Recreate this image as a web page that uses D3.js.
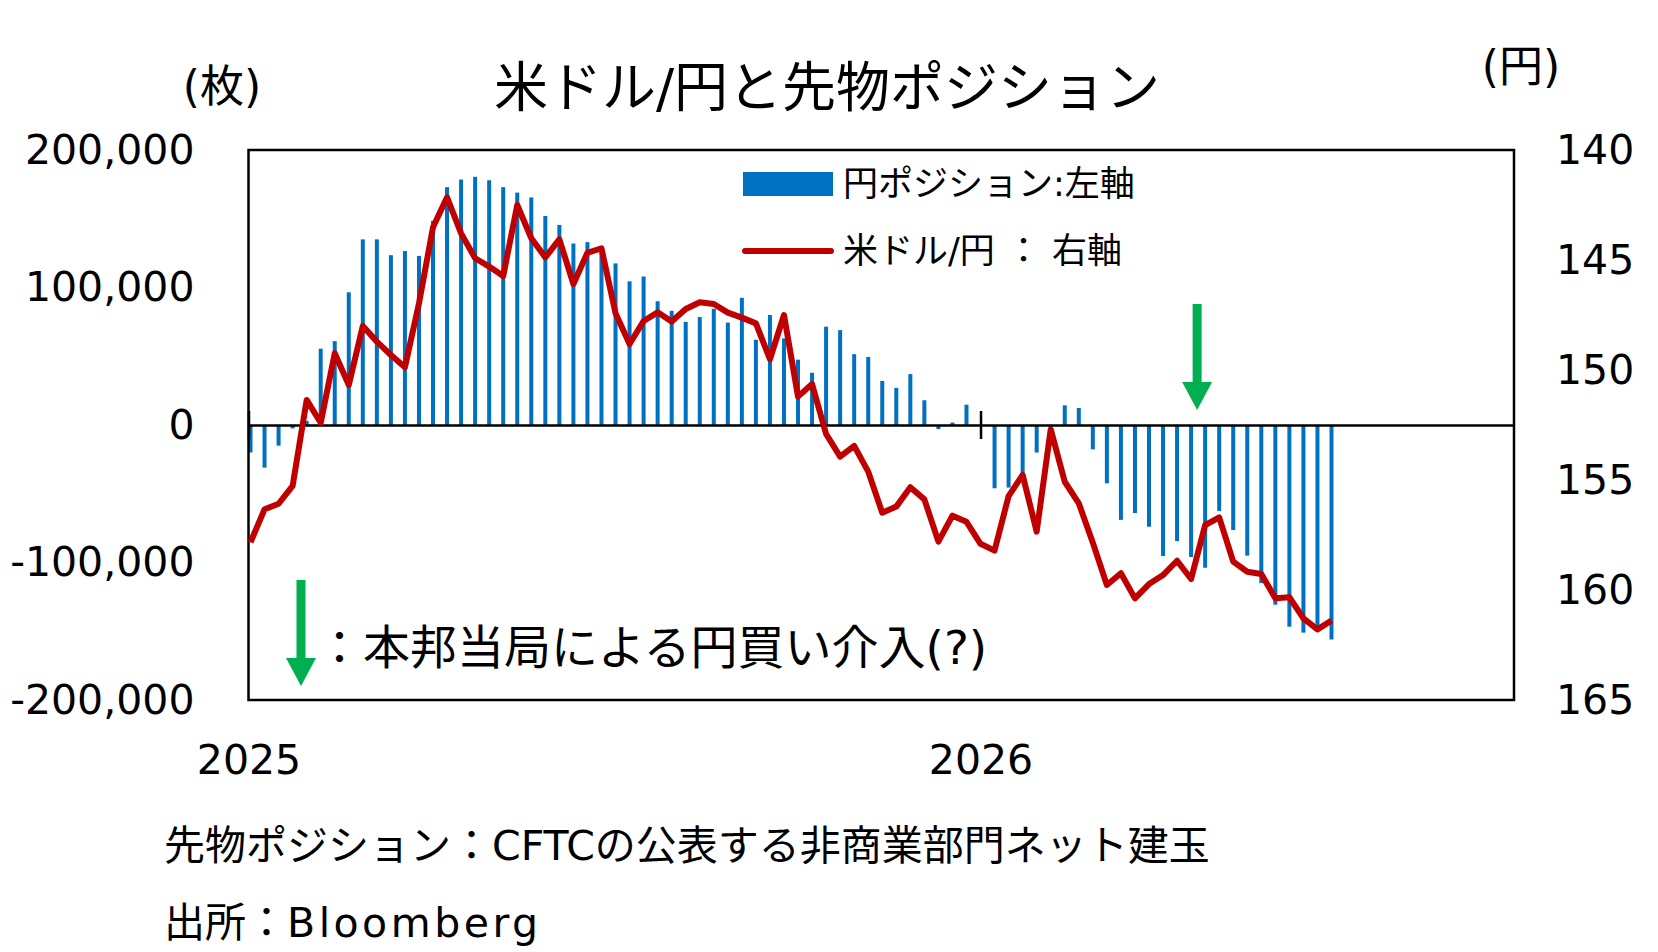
<!DOCTYPE html>
<html>
<head>
<meta charset="utf-8">
<script src="https://cdn.jsdelivr.net/npm/d3@7"></script>
<style>
  body { margin: 0; background: #fff; }
  svg { display: block; font-family: "DejaVu Sans", "Noto Sans CJK JP", sans-serif; }
</style>
</head>
<body>
<svg id="chart" width="1658" height="952"></svg>
<script>
// weekly CFTC dates start here, one bar per week
const firstWeek = "2025-01-02";

// non-commercial net yen futures position (contracts), left axis
const yenPosition = [
  -20000, -31000, -15000, -2500, 3000, 55500, 61000, 96500, 135000, 135000,
  123500, 126500, 123000, 148500, 173000, 178500, 180500, 178000, 173000, 169000,
  165500, 152000, 145500, 132000, 133000, 129000, 117500, 104500, 108000, 90000,
  83000, 75000, 78500, 84500, 74500, 92500, 62000, 80000, 63000, 47500,
  38000, 71500, 69000, 51500, 49500, 32000, 27000, 37000, 18000, -3000,
  1800, 14800, 0, -46000, -45500, -38000, -20000, -15000, 14300, 12400,
  -17700, -42400, -69000, -64000, -74000, -95300, -84400, -96000, -103800, -62500,
  -76400, -95000, -115000, -130700, -146700, -151000, -150000, -156000
];

// USD/JPY, right axis (inverted)
const usdJpy = [
  157.83, 156.33, 156.08, 155.27, 151.36, 152.4, 149.24, 150.68, 148.0, 148.71,
  149.32, 149.88, 146.97, 143.51, 142.15, 143.79, 144.92, 145.3, 145.73, 142.5,
  144.01, 144.88, 144.06, 146.09, 144.67, 144.47, 147.42, 148.82, 147.77, 147.38,
  147.8, 147.23, 146.92, 147.0, 147.39, 147.62, 147.88, 149.51, 147.5, 151.21,
  150.64, 152.91, 153.94, 153.45, 154.62, 156.49, 156.21, 155.33, 155.88, 157.8,
  156.62, 156.9, 157.9, 158.21, 155.73, 154.77, 157.35, 152.7, 155.08, 156.06,
  157.85, 159.77, 159.24, 160.38, 159.73, 159.32, 158.67, 159.5, 157.05, 156.7,
  158.71, 159.17, 159.27, 160.38, 160.33, 161.29, 161.79, 161.39
];

const yearTicks = ["2025-01-01", "2026-01-01"];
const leftTicks = [200000, 100000, 0, -100000, -200000];
const rightTicks = [140, 145, 150, 155, 160, 165];
const interventionDates = ["2026-04-19"];
const xDomain = ["2025-01-01", "2026-09-24"];

const parse = d3.utcParse("%Y-%m-%d");
const fmt = d3.formatLocale({decimal: ".", thousands: ",", grouping: [3], currency: ["", ""], minus: "-"}).format(",");

const svg = d3.select("#chart");
const plot = {left: 248.5, right: 1514, top: 150, bottom: 700};

const start = parse(firstWeek);
const weeks = yenPosition.map((_, i) => d3.utcDay.offset(start, i * 7));

const x = d3.scaleUtc()
  .domain(xDomain.map(parse))
  .range([plot.left, plot.right]);

const yL = d3.scaleLinear().domain([-200000, 200000]).range([plot.bottom, plot.top]);
const yR = d3.scaleLinear().domain([165, 140]).range([plot.bottom, plot.top]);

// bars
svg.append("g")
  .selectAll("rect")
  .data(yenPosition)
  .enter()
  .append("rect")
  .attr("x", (d, i) => x(weeks[i]) - 2)
  .attr("width", 4)
  .attr("y", d => yL(Math.max(0, d)))
  .attr("height", d => Math.abs(yL(d) - yL(0)))
  .attr("fill", "#0070C0");

// zero line with year tick
const zeroAxis = svg.append("g")
  .attr("transform", `translate(0,${yL(0)})`)
  .call(d3.axisBottom(x).tickValues(yearTicks.map(parse)).tickSizeOuter(0).tickFormat(""));
zeroAxis.select(".domain").attr("stroke", "#000").attr("stroke-width", 2.5);
zeroAxis.selectAll(".tick line").attr("y1", -14).attr("y2", 14).attr("stroke", "#000").attr("stroke-width", 2.5);

// frame
svg.append("rect")
  .attr("x", plot.left).attr("y", plot.top)
  .attr("width", plot.right - plot.left).attr("height", plot.bottom - plot.top)
  .attr("fill", "none").attr("stroke", "#000").attr("stroke-width", 2.5);

// usd/jpy line
const line = d3.line()
  .x((d, i) => x(weeks[i]))
  .y(d => yR(d));

svg.append("path")
  .datum(usdJpy)
  .attr("d", line)
  .attr("fill", "none")
  .attr("stroke", "#C00000")
  .attr("stroke-width", 6)
  .attr("stroke-linejoin", "round");

// axes labels
const leftAxis = svg.append("g")
  .attr("transform", `translate(${plot.left},0)`)
  .call(d3.axisLeft(yL).tickValues(leftTicks).tickSize(0).tickPadding(54).tickFormat(fmt));
const rightAxis = svg.append("g")
  .attr("transform", `translate(${plot.right},0)`)
  .call(d3.axisRight(yR).tickValues(rightTicks).tickSize(0).tickPadding(42));
const yearAxis = svg.append("g")
  .attr("transform", `translate(0,${plot.bottom})`)
  .call(d3.axisBottom(x).tickValues(yearTicks.map(parse)).tickSize(0).tickPadding(45).tickFormat(d3.utcFormat("%Y")));

[leftAxis, rightAxis, yearAxis].forEach(a => {
  a.select(".domain").remove();
  a.selectAll("text")
    .attr("font-family", "DejaVu Sans, Noto Sans CJK JP, sans-serif")
    .attr("font-size", 41)
    .attr("fill", "#000");
});

// green arrows
const arrow = (g, cx, top, tip) => {
  const headH = 28, headW = 30, shaftW = 9;
  g.append("rect")
    .attr("x", cx - shaftW / 2).attr("y", top)
    .attr("width", shaftW).attr("height", tip - headH - top + 1)
    .attr("fill", "#00B050");
  g.append("path")
    .attr("d", `M${cx - headW / 2},${tip - headH}L${cx + headW / 2},${tip - headH}L${cx},${tip}Z`)
    .attr("fill", "#00B050");
};

const arrows = svg.append("g");
interventionDates.forEach(d => {
  arrow(arrows, x(parse(d)), yL(0) - 121, yL(0) - 15);
});
arrow(arrows, 301, 580, 686);

// texts
const text = (str, tx, ty, size, anchor) =>
  svg.append("text")
    .attr("x", tx).attr("y", ty)
    .attr("font-size", size)
    .attr("text-anchor", anchor || "start")
    .attr("dominant-baseline", "central")
    .attr("fill", "#000")
    .text(str);

text("米ドル/円と先物ポジション", 827, 88, 54, "middle");
text("(枚)", 222, 86, 44, "middle");
text("(円)", 1521, 66, 44, "middle");

// legend
svg.append("rect")
  .attr("x", 743).attr("y", 172).attr("width", 90).attr("height", 24)
  .attr("fill", "#0070C0");
text("円ポジション:左軸", 843, 184, 35);
svg.append("line")
  .attr("x1", 745).attr("x2", 831).attr("y1", 251).attr("y2", 251)
  .attr("stroke", "#C00000").attr("stroke-width", 6).attr("stroke-linecap", "round");
text("米ドル/円 ： 右軸", 843, 251, 35);

text("：本邦当局による円買い介入(?)", 316, 647, 47);

text("先物ポジション：CFTCの公表する非商業部門ネット建玉", 164, 846, 41);
const src = text("出所：", 164, 923, 41);
src.append("tspan").attr("letter-spacing", 3.5).text("Bloomberg");
</script>
</body>
</html>
